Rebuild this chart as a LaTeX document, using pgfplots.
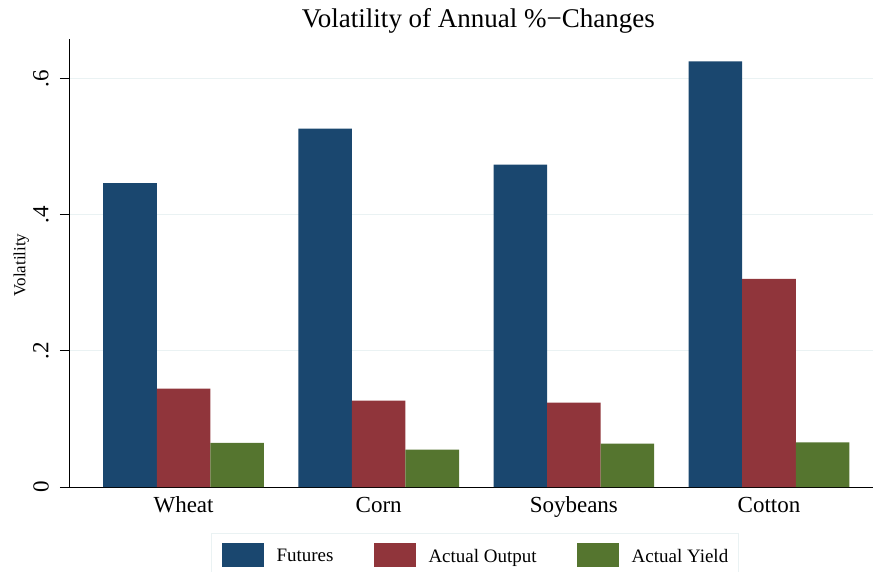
\documentclass[border=0pt]{standalone}
\usepackage{fontspec}
\setmainfont{Liberation Serif}
\usepackage{pgfplots}
\pgfplotsset{compat=1.18}
\definecolor{futc}{RGB}{26,71,111}
\definecolor{outc}{RGB}{144,53,59}
\definecolor{yldc}{RGB}{85,117,47}
\definecolor{gridc}{RGB}{234,242,243}
\begin{document}
\begin{tikzpicture}
\begin{axis}[
 name=ax,
 scale only axis,
 width=803bp, height=448bp,
 xmin=-0.582, xmax=3.533,
 ymin=0, ymax=0.6583,
 axis x line*=bottom, axis y line*=left,
 axis line style={line width=1bp, black, -},
 xtick={0,1,2,3},
 xticklabels={Wheat,Corn,Soybeans,Cotton},
 ytick={0,0.2,0.4,0.6},
 yticklabels={0,.2,.4,.6},
 /pgf/number format/assume math mode=true,
 tick align=outside,
 major tick length=10bp,
 x tick style={draw=none},
 y tick style={line width=1bp, black},
 ymajorgrids,
 grid style={line width=1bp, gridc},
 xticklabel style={font=\fontsize{23bp}{27bp}\selectfont, anchor=base, inner sep=0pt, yshift=-15.7bp},
 yticklabel style={font=\fontsize{23bp}{27bp}\selectfont, xshift=-11bp, rotate=90, anchor=south, inner sep=0pt},
 ylabel={Volatility},
 ylabel style={font=\fontsize{17bp}{20bp}\selectfont, at={(axis description cs:-0.05542,0.4955)}, anchor=base},
 title={Volatility of Annual \%−Changes},
 title style={font=\fontsize{27bp}{31bp}\selectfont, at={(0.5086,1)}, anchor=base, yshift=5.3bp},
 ybar, bar width=53.55bp,
 legend columns=3,
 legend cell align=left,
 legend image code/.code={\fill[#1] (0bp,-10.7bp) rectangle (42bp,13.7bp);},
 legend style={at={(0.1756,-0.1027)}, anchor=north west, draw=gridc, line width=1bp, fill=white,
   inner xsep=10bp, inner ysep=9bp, nodes={inner sep=0pt}, column sep=13bp,
   /tikz/every even column/.append style={column sep=40bp},
   font=\fontsize{19bp}{22bp}\selectfont},
]
\addplot[fill=futc, draw=none, bar shift=-53.55bp] coordinates {(0,0.4467) (1,0.5265) (2,0.4736) (3,0.6254)};
\addplot[fill=outc, draw=none, bar shift=0bp] coordinates {(0,0.1446) (1,0.1268) (2,0.1240) (3,0.3060)};
\addplot[fill=yldc, draw=none, bar shift=53.55bp] coordinates {(0,0.0647) (1,0.0548) (2,0.0637) (3,0.0655)};
\legend{Futures, Actual Output, Actual Yield}
\end{axis}
\pgfresetboundingbox
\path[use as bounding box] ([xshift=-70bp,yshift=-85bp]ax.south west) rectangle ([yshift=39bp]ax.north east);
\end{tikzpicture}
\end{document}
